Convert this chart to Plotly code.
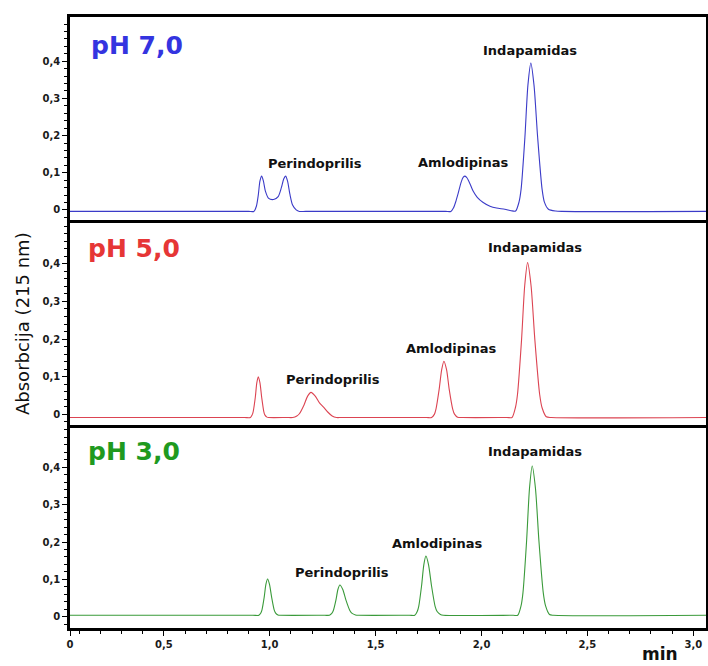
import plotly.graph_objects as go

# ---------------- data (time in min, absorbance in AU) ----------------
PH7_POINTS = [
    (0.055, -0.004), (0.900, -0.004), (0.925, -0.004), (0.937, 0.010), (0.946, 0.040),
    (0.954, 0.078), (0.962, 0.091), (0.970, 0.078), (0.980, 0.050), (0.995, 0.031),
    (1.018, 0.028), (1.040, 0.036), (1.055, 0.060), (1.066, 0.083), (1.075, 0.091),
    (1.084, 0.078), (1.095, 0.043), (1.108, 0.013), (1.125, 0.000), (1.140, -0.004),
    (1.170, -0.004),
    (1.830, -0.004), (1.855, -0.004), (1.868, 0.006), (1.880, 0.025), (1.890, 0.045),
    (1.904, 0.075), (1.914, 0.088), (1.922, 0.091), (1.932, 0.086), (1.946, 0.070),
    (1.961, 0.050), (1.980, 0.034), (2.008, 0.020), (2.040, 0.010), (2.071, 0.005),
    (2.110, 0.002), (2.140, -0.002),
    (2.161, -0.003), (2.177, 0.021), (2.187, 0.056), (2.205, 0.196), (2.219, 0.335),
    (2.233, 0.395), (2.248, 0.335), (2.265, 0.196), (2.286, 0.056), (2.297, 0.021),
    (2.316, 0.002), (2.350, -0.003), (2.380, -0.004), (3.060, -0.004),
]

PH5_POINTS = [
    (0.055, -0.009), (0.880, -0.009), (0.909, -0.009), (0.917, -0.002), (0.922, 0.007),
    (0.932, 0.045), (0.939, 0.083), (0.946, 0.0995), (0.954, 0.083), (0.962, 0.045),
    (0.972, 0.007), (0.977, -0.002), (0.987, -0.008), (0.995, -0.009), (1.080, -0.009),
    (1.109, -0.009), (1.128, -0.005), (1.140, 0.001), (1.162, 0.0245), (1.179, 0.048),
    (1.195, 0.058), (1.215, 0.048), (1.235, 0.030), (1.253, 0.0195), (1.275, 0.005),
    (1.295, -0.005), (1.315, -0.009), (1.340, -0.009),
    (1.740, -0.009), (1.764, -0.009), (1.778, 0.000), (1.785, 0.0135), (1.800, 0.066),
    (1.812, 0.1185), (1.8225, 0.141), (1.835, 0.1185), (1.8475, 0.066), (1.864, 0.0135),
    (1.8725, 0.000), (1.887, -0.008), (1.910, -0.009),
    (2.120, -0.009), (2.144, -0.009), (2.160, 0.017), (2.170, 0.053), (2.189, 0.197),
    (2.204, 0.342), (2.2176, 0.4035), (2.234, 0.342), (2.252, 0.197), (2.2745, 0.053),
    (2.286, 0.017), (2.306, -0.007), (2.330, -0.009), (3.060, -0.009),
]

PH3_POINTS = [
    (0.055, 0.004), (0.920, 0.004), (0.949, 0.004), (0.958, 0.010), (0.9635, 0.0186),
    (0.974, 0.0525), (0.982, 0.0865), (0.990, 0.101), (0.999, 0.0865), (1.009, 0.0525),
    (1.021, 0.0186), (1.028, 0.010), (1.039, 0.005), (1.050, 0.004),
    (1.260, 0.004), (1.282, 0.004), (1.293, 0.009), (1.300, 0.016), (1.3126, 0.0445),
    (1.322, 0.073), (1.3314, 0.085), (1.345, 0.073), (1.360, 0.0445), (1.379, 0.016),
    (1.389, 0.009), (1.405, 0.005), (1.420, 0.004),
    (1.660, 0.004), (1.685, 0.004), (1.6965, 0.014), (1.7036, 0.028), (1.717, 0.083),
    (1.7276, 0.139), (1.7375, 0.1625), (1.750, 0.139), (1.764, 0.083), (1.781, 0.028),
    (1.7905, 0.014), (1.806, 0.006), (1.820, 0.004),
    (2.150, 0.004), (2.171, 0.004), (2.1866, 0.029), (2.1957, 0.064), (2.213, 0.204),
    (2.2266, 0.344), (2.2394, 0.4035), (2.2547, 0.344), (2.271, 0.204), (2.2917, 0.064),
    (2.3026, 0.029), (2.321, 0.006), (2.340, 0.004), (3.060, 0.004),
]

PANEL_NAMES = ["pH 7,0", "pH 5,0", "pH 3,0"]
COMPOUNDS = ["Perindoprilis", "Amlodipinas", "Indapamidas"]
# label anchor positions (time, absorbance) per panel
LABEL_T = [[1.213, 1.915, 2.229], [1.298, 1.856, 2.252], [1.343, 1.793, 2.252]]
LABEL_A = [[0.124, 0.127, 0.429], [0.091, 0.175, 0.443], [0.118, 0.195, 0.442]]

Y_TICKS = [0, 0.1, 0.2, 0.3, 0.4]
Y_TICK_TEXT = ["0", "0,1", "0,2", "0,3", "0,4"]
X_START, X_END = 0.057, 3.06
X_TICKS = [X_START, 0.5, 1.0, 1.5, 2.0, 2.5, 3.0]
X_TICK_TEXT = ["0", "0,5", "1,0", "1,5", "2,0", "2,5", "3,0"]
Y_LABEL = "Absorbcija (215 nm)"
X_UNIT = "min"

# ---------------- styling ----------------
W, H = 708, 666
ML, MR, MT, MB = 70, 2, 17, 38
PW, PH = W - ML - MR, H - MT - MB
LINE_COLORS = ["#3b3bc8", "#dc4452", "#3a9a3a"]
NAME_COLORS = ["#3434e0", "#e63636", "#1f9a1f"]
Y_RANGES = [(-0.027, 0.519), (-0.029, 0.517), (-0.030, 0.513)]
DOMAINS = [(0.6678, 1.0), (0.3322, 0.6678), (0.0, 0.3322)]
NAME_POS = [(89, 45), (86, 248), (86, 451)]  # pixel left / center
FONT = "DejaVu Sans"


def px_to_paper(px, py):
    return (px - ML) / PW, (H - MB - py) / PH


fig = go.Figure()
series = [PH7_POINTS, PH5_POINTS, PH3_POINTS]
annotations = []
for i, pts in enumerate(series):
    sx = "" if i == 0 else str(i + 1)
    fig.add_trace(go.Scatter(
        x=[p[0] for p in pts], y=[p[1] for p in pts],
        mode="lines", line=dict(color=LINE_COLORS[i], width=1.1, shape="spline", smoothing=0.7),
        xaxis="x" + sx, yaxis="y" + sx, showlegend=False, hoverinfo="skip"))
    for name, t, a in zip(COMPOUNDS, LABEL_T[i], LABEL_A[i]):
        annotations.append(dict(x=t, y=a, xref="x" + sx, yref="y" + sx, text=name,
                                showarrow=False, xanchor="center", yanchor="middle",
                                font=dict(family=FONT, size=13, color="#111111", weight="bold")))
    nx, ny = px_to_paper(*NAME_POS[i])
    annotations.append(dict(x=nx, y=ny, xref="paper", yref="paper", text=PANEL_NAMES[i],
                            showarrow=False, xanchor="left", yanchor="middle",
                            font=dict(family=FONT, size=25, color=NAME_COLORS[i], weight="bold")))

tx, ty = px_to_paper(22, 324)
annotations.append(dict(x=tx, y=ty, xref="paper", yref="paper", text=Y_LABEL, textangle=-90,
                        showarrow=False, xanchor="center", yanchor="middle",
                        font=dict(family=FONT, size=18, color="#111111")))
mx, my = px_to_paper(660, 654)
annotations.append(dict(x=mx, y=my, xref="paper", yref="paper", text=X_UNIT,
                        showarrow=False, xanchor="center", yanchor="middle",
                        font=dict(family=FONT, size=17, color="#111111", weight="bold")))

layout = dict(
    width=W, height=H, margin=dict(l=ML, r=MR, t=MT, b=MB),
    paper_bgcolor="white", plot_bgcolor="white", showlegend=False,
    annotations=annotations,
)
tick_font = dict(family=FONT, size=10, color="#1a1a1a", weight="bold")
for i in range(3):
    sx = "" if i == 0 else str(i + 1)
    layout["yaxis" + sx] = dict(
        domain=list(DOMAINS[i]), anchor="x" + sx, range=list(Y_RANGES[i]),
        tickmode="array", tickvals=Y_TICKS, ticktext=Y_TICK_TEXT,
        ticks="outside", ticklen=5, tickwidth=1.2, tickcolor="black",
        showline=True, linewidth=2.5, linecolor="black", mirror=True,
        showgrid=False, zeroline=False, tickfont=tick_font, automargin=False,
        minor=dict(tickmode="linear", tick0=0, dtick=0.02, ticks="outside",
                   ticklen=3, tickwidth=1, tickcolor="black", showgrid=False),
    )
    xa = dict(
        domain=[0, 1], anchor="y" + sx, range=[X_START, X_END],
        showline=True, linewidth=2.5, linecolor="black", mirror=(i == 0),
        showgrid=False, zeroline=False, automargin=False,
    )
    if i == 2:
        xa.update(tickmode="array", tickvals=X_TICKS, ticktext=X_TICK_TEXT,
                  ticks="outside", ticklen=5, tickwidth=1.2, tickcolor="black",
                  tickfont=tick_font,
                  minor=dict(tickmode="linear", tick0=0, dtick=0.1, ticks="outside",
                             ticklen=3, tickwidth=1, tickcolor="black", showgrid=False))
    else:
        xa.update(showticklabels=False, ticks="")
    layout["xaxis" + sx] = xa

fig.update_layout(**layout)
fig.write_html("out.html", config={"displayModeBar": False},
               post_script="document.body.style.margin='0';document.body.style.overflow='hidden';")
